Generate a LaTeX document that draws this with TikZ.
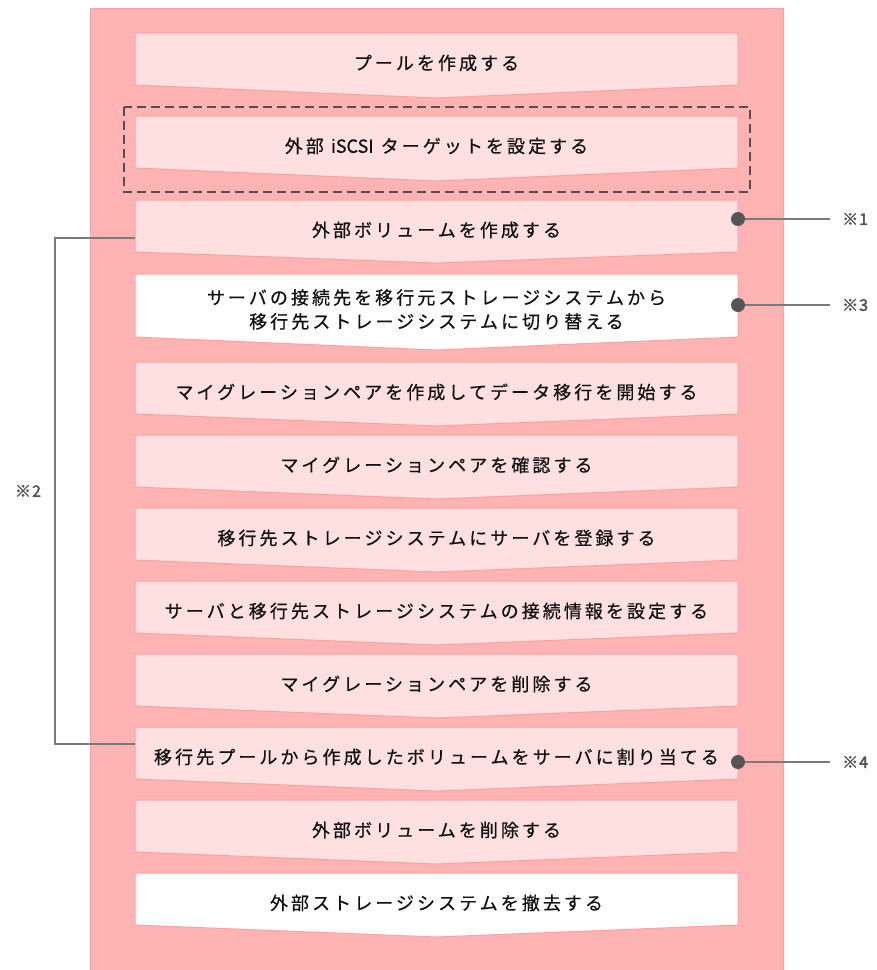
\documentclass[tikz,border=0pt]{standalone}
\usepackage{fontspec}
\newfontfamily\jp[LetterSpace=17,FakeBold=0.6]{Noto Sans CJK JP}
\newfontfamily\jplat[FakeBold=0.6]{Noto Sans CJK JP}
\newfontfamily\jpmark[FakeBold=2.5]{Noto Sans CJK JP}
\definecolor{bgpink}{HTML}{FFB3B3}
\definecolor{bgline}{HTML}{FF9E9E}
\definecolor{boxpink}{HTML}{FFE0E0}
\definecolor{boxline}{HTML}{FFA0A0}
\definecolor{dashgray}{HTML}{505050}
\definecolor{dotgray}{HTML}{555555}
\definecolor{linegray}{HTML}{7A7A7A}
\definecolor{markgray}{HTML}{555555}
\definecolor{textblack}{HTML}{111111}
\tikzset{
  stepfill/.style={fill=boxpink, draw=boxline, line width=1pt},
  stepwhite/.style={fill=white, draw=boxline, line width=1pt},
  steptext/.style={font=\jp\fontsize{18pt}{24pt}\selectfont, text=textblack, inner sep=0pt, align=center},
  notedot/.style={fill=dotgray, circle, inner sep=0pt, minimum size=14pt},
  noteline/.style={draw=linegray, line width=1.5pt},
  notetext/.style={font=\jpmark\fontsize{16pt}{18pt}\selectfont, text=markgray, inner sep=0pt},
  bracketline/.style={draw=linegray, line width=1.5pt},
  dashbox/.style={draw=dashgray, line width=1.8pt, dash pattern=on 9pt off 5pt},
}
% name, top, height, style, chevron depth, text
\newcommand\stepbox[6]{%
  \draw[#4] (135,#2) -- (738,#2) -- (738,{#2+#3}) -- (436.5,{#2+#3+#5}) -- (135,{#2+#3}) -- cycle;
  \node[steptext] (#1) at (436.5,{#2+#3/2+4}) {#6};
}
\begin{document}
\begin{tikzpicture}[x=1pt,y=-1pt]
\useasboundingbox (0,0) rectangle (877,970);
% background band
\draw[fill=bgpink, draw=bgline, line width=1pt] (90,8) rectangle (783,975);
% steps
\stepbox{b1}{33}{52}{stepfill}{13}{プールを作成する}
\stepbox{b2}{116}{52}{stepfill}{13}{外部 {\jplat iSCSI} ターゲットを設定する}
\draw[dashbox] (124,107) rectangle (750,192);
\stepbox{b3}{200}{52}{stepfill}{11}{外部ボリュームを作成する}
\stepbox{b4}{274}{63}{stepwhite}{13}{サーバの接続先を移行元ストレージシステムから\\移行先ストレージシステムに切り替える}
\stepbox{b5}{362}{52}{stepfill}{12}{マイグレーションペアを作成してデータ移行を開始する}
\stepbox{b6}{435}{52}{stepfill}{12}{マイグレーションペアを確認する}
\stepbox{b7}{508}{52}{stepfill}{12}{移行先ストレージシステムにサーバを登録する}
\stepbox{b8}{581}{52}{stepfill}{12}{サーバと移行先ストレージシステムの接続情報を設定する}
\stepbox{b9}{654}{52}{stepfill}{12}{マイグレーションペアを削除する}
\stepbox{b10}{727}{52}{stepfill}{12}{移行先プールから作成したボリュームをサーバに割り当てる}
\stepbox{b11}{800}{52}{stepfill}{12}{外部ボリュームを削除する}
\stepbox{b12}{873}{52}{stepwhite}{12}{外部ストレージシステムを撤去する}
% notes on the right
\node[notedot] (dot1) at (738,219) {};
\node[notedot] (dot3) at (738,305) {};
\node[notedot] (dot4) at (738,762) {};
\node[notetext, anchor=west] (n1) at (842,219) {※\kern1pt 1};
\node[notetext, anchor=west] (n3) at (842,305) {※\kern1pt 3};
\node[notetext, anchor=west] (n4) at (842,762) {※\kern1pt 4};
\coordinate (e1) at (830,219);
\coordinate (e3) at (830,305);
\coordinate (e4) at (830,762);
\draw[noteline] (dot1.east) -- (e1);
\draw[noteline] (dot3.east) -- (e3);
\draw[noteline] (dot4.east) -- (e4);
% bracket on the left
\coordinate (bk1) at (135,238);
\coordinate (bk2) at (135,744);
\node[notetext] (n2) at (28,491) {※\kern1pt 2};
\draw[bracketline] (bk1) -- ++(-80,0) |- (bk2);
\end{tikzpicture}
\end{document}
